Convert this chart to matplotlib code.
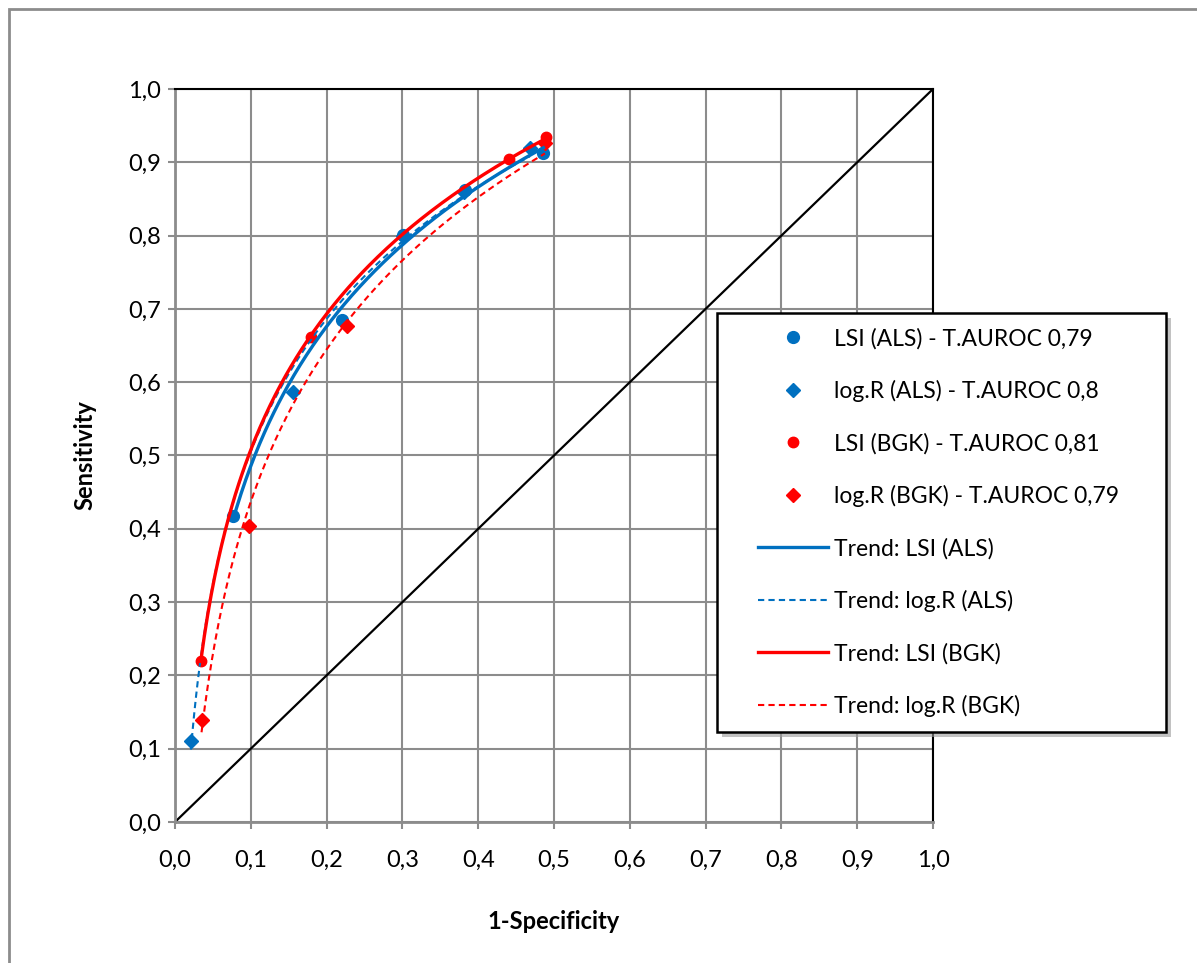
import numpy as np
import matplotlib.pyplot as plt
from matplotlib.patches import Rectangle
from matplotlib.ticker import FuncFormatter

plt.rcParams['font.family'] = ['Lato', 'DejaVu Sans']

# data (1-Specificity, Sensitivity)
lsi_als_x = [0.077, 0.220, 0.301, 0.382, 0.486]
lsi_als_y = [0.417, 0.685, 0.801, 0.862, 0.913]
logr_als_x = [0.021, 0.156, 0.301, 0.381, 0.468]
logr_als_y = [0.110, 0.586, 0.800, 0.860, 0.920]
lsi_bgk_x = [0.034, 0.179, 0.441, 0.490]
lsi_bgk_y = [0.220, 0.661, 0.905, 0.934]
logr_bgk_x = [0.035, 0.097, 0.227, 0.488]
logr_bgk_y = [0.139, 0.404, 0.676, 0.926]

labels = ['LSI (ALS) - T.AUROC 0,79', 'log.R (ALS) - T.AUROC 0,8',
          'LSI (BGK) - T.AUROC 0,81', 'log.R (BGK) - T.AUROC 0,79']
trend_labels = ['Trend: LSI (ALS)', 'Trend: log.R (ALS)',
                'Trend: LSI (BGK)', 'Trend: log.R (BGK)']

blue = '#0070C0'
red = '#FF0000'
grid_c = '#8C8C8C'
W, H = 1197, 963

fig = plt.figure(figsize=(11.97, 9.63), dpi=100)
ax = fig.add_axes([175 / W, 141 / H, 758 / W, 733 / H])

# outer chart border
fig.patches.append(Rectangle((9 / W, -0.1), 1.2, 0.1 + 954 / H, transform=fig.transFigure,
                             fill=False, edgecolor='#8C8C8C', linewidth=2))

ax.plot([0, 1], [0, 1], color='black', lw=1.6, zorder=2)

series = [
    (lsi_als_x, lsi_als_y, blue, 'o', 8.5, '-', 2.4),
    (logr_als_x, logr_als_y, blue, 'D', 7, '--', 1.5),
    (lsi_bgk_x, lsi_bgk_y, red, 'o', 7.5, '-', 2.4),
    (logr_bgk_x, logr_bgk_y, red, 'D', 7, '--', 1.5),
]

pt_handles = []
tr_handles = []
for (x, y, c, m, ms, ls, lw), lab, tlab in zip(series, labels, trend_labels):
    h, = ax.plot(x, y, linestyle='none', marker=m, color=c, ms=ms, zorder=3, label=lab)
    pt_handles.append(h)
    # logarithmic trend line, as in the spreadsheet
    a, b = np.polyfit(np.log(x), y, 1)
    xs = np.linspace(min(x), max(x), 200)
    t, = ax.plot(xs, a * np.log(xs) + b, color=c, ls=ls, lw=lw, zorder=4, label=tlab,
                 dashes=(3, 2) if ls == '--' else (None, None))
    tr_handles.append(t)

ax.set_xlim(0, 1)
ax.set_ylim(0, 1)
ticks = np.arange(0, 1.01, 0.1)
ax.set_xticks(ticks)
ax.set_yticks(ticks)
fmt = FuncFormatter(lambda v, p: f'{v:.1f}'.replace('.', ','))
ax.xaxis.set_major_formatter(fmt)
ax.yaxis.set_major_formatter(fmt)
ax.grid(True, color=grid_c, lw=1.5)
ax.set_axisbelow(True)
ax.tick_params(direction='out', length=5, width=1.5, color=grid_c, labelsize=17, pad=5)
ax.tick_params(axis='x', pad=15)
for s in ['top', 'right']:
    ax.spines[s].set_color('black')
    ax.spines[s].set_linewidth(1.5)
for s in ['left', 'bottom']:
    ax.spines[s].set_color(grid_c)
    ax.spines[s].set_linewidth(2)

ax.set_xlabel('1-Specificity', fontsize=17, fontweight='bold', labelpad=28)
ax.set_ylabel('Sensitivity', fontsize=17, fontweight='bold', labelpad=23)

# legend box with shadow, drawn by hand
x0, y0, x1, y1 = 717, 313, 1166, 732
shadow = Rectangle((x0 / W + 5 / W, 1 - y1 / H - 5 / H), (x1 - x0) / W, (y1 - y0) / H,
                   transform=fig.transFigure, facecolor='#9A9A9A', edgecolor='none',
                   alpha=0.6, zorder=8, clip_on=False)
box = Rectangle((x0 / W, 1 - y1 / H), (x1 - x0) / W, (y1 - y0) / H,
                transform=fig.transFigure, facecolor='white', edgecolor='black',
                linewidth=1.8, zorder=9, clip_on=False)
ax.add_patch(shadow)
ax.add_patch(box)

leg = ax.legend(pt_handles + tr_handles, labels + trend_labels,
                loc='center left', bbox_to_anchor=(758 / W, 1 - 522.5 / H),
                bbox_transform=fig.transFigure, fontsize=16.5, frameon=False,
                handlelength=3.05, handletextpad=0.26,
                labelspacing=1.34, borderpad=0, borderaxespad=0)
leg.set_zorder(10)

fig.savefig('out.png', dpi=100)
